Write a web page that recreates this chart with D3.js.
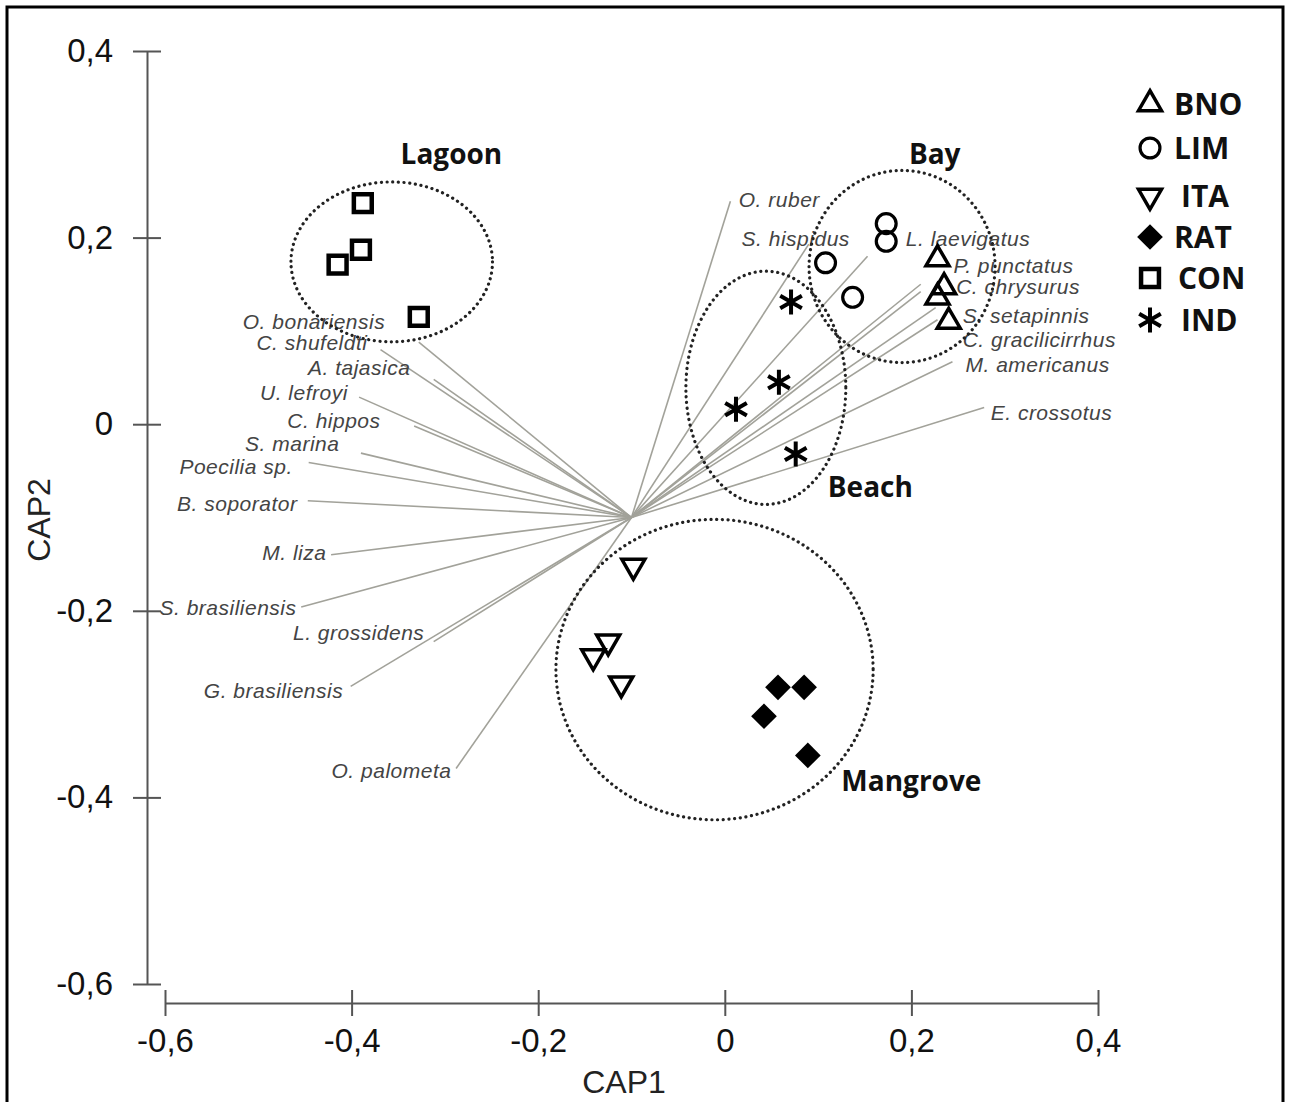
<!DOCTYPE html>
<html><head><meta charset="utf-8">
<script src="https://cdn.jsdelivr.net/npm/d3@7"></script>
<style>body{margin:0;background:#fff}</style>
</head><body>
<svg id="c" width="1290" height="1102"></svg>
<script>
// ---------- data ----------
const sites = ["BNO","LIM","ITA","RAT","CON","IND"];
const sampleSite = ["BNO","BNO","BNO","BNO","LIM","LIM","LIM","LIM","ITA","ITA","ITA","ITA","RAT","RAT","RAT","RAT","CON","CON","CON","CON","IND","IND","IND","IND"];
const sampleCap1 = [0.228,0.235,0.228,0.240, 0.173,0.173,0.108,0.137, -0.098,-0.125,-0.141,-0.111, 0.057,0.085,0.042,0.089, -0.388,-0.390,-0.415,-0.328, 0.071,0.058,0.012,0.076];
const sampleCap2 = [0.177,0.147,0.136,0.110, 0.215,0.196,0.173,0.136, -0.152,-0.233,-0.249,-0.278, -0.282,-0.282,-0.313,-0.355, 0.237,0.187,0.171,0.115, 0.131,0.045,0.016,-0.032];

const vectorOrigin = [-0.1, -0.1];
const species = ["O. bonariensis","C. shufeldti","A. tajasica","U. lefroyi","C. hippos","S. marina","Poecilia sp.","B. soporator","M. liza","S. brasiliensis","L. grossidens","G. brasiliensis","O. palometa",
                 "O. ruber","S. hispidus","L. laevigatus","P. punctatus","C. chrysurus","S. setapinnis","C. gracilicirrhus","M. americanus","E. crossotus"];
const speciesCap1 = [-0.328,-0.369,-0.312,-0.392,-0.333,-0.390,-0.446,-0.447,-0.422,-0.454,-0.312,-0.401,-0.288,
                      0.006,0.090,0.153,0.210,0.210,0.226,0.228,0.244,0.278];
const speciesCap2 = [0.088,0.080,0.048,0.029,-0.002,-0.031,-0.041,-0.082,-0.140,-0.196,-0.233,-0.281,-0.369,
                      0.239,0.193,0.180,0.150,0.142,0.125,0.112,0.067,0.018];
// label anchor points (data units)
const labelCap1 = [-0.364,-0.383,-0.337,-0.404,-0.369,-0.413,-0.463,-0.458,-0.427,-0.459,-0.322,-0.409,-0.293,
                    0.015,0.018,0.194,0.245,0.248,0.255,0.255,0.258,0.285];
const labelCap2 = [0.110,0.087,0.061,0.034,0.004,-0.021,-0.045,-0.085,-0.138,-0.197,-0.223,-0.286,-0.371,
                    0.241,0.199,0.199,0.170,0.147,0.116,0.091,0.064,0.012];

const groups = ["Lagoon","Bay","Beach","Mangrove"];
const groupCx = [-0.357, 0.190, 0.044, -0.011];
const groupCy = [0.174, 0.169, 0.039, -0.263];
const groupRx = [0.108, 0.0997, 0.0857, 0.170];
const groupRy = [0.0857, 0.103, 0.125, 0.161];
const groupLabelCap1 = [-0.293, 0.225, 0.156, 0.200];
const groupLabelCap2 = [0.289, 0.289, -0.068, -0.383];

const xTicks = [-0.6,-0.4,-0.2,0,0.2,0.4];
const yTicks = [0.4,0.2,0,-0.2,-0.4,-0.6];
const fmt = v => (v===0 ? "0" : String(v).replace(".", ","));

// ---------- layout ----------
const svg = d3.select("#c");
const x = d3.scaleLinear().domain([-0.6,0.4]).range([165,1098]);
const y = d3.scaleLinear().domain([-0.6,0.4]).range([984,51]);
const axisXpos = 147, axisYpos = 1003;

svg.append("rect").attr("x",7).attr("y",7).attr("width",1276).attr("height",1120)
  .attr("fill","none").attr("stroke","#000").attr("stroke-width",3);

// axes
const gy = svg.append("g").attr("transform",`translate(${axisXpos},0)`)
  .call(d3.axisLeft(y).tickValues(yTicks).tickFormat(fmt).tickSizeOuter(0).tickSizeInner(14).tickPadding(20));
const gx = svg.append("g").attr("transform",`translate(0,${axisYpos})`)
  .call(d3.axisBottom(x).tickValues(xTicks).tickFormat(fmt).tickSizeOuter(0).tickSizeInner(13).tickPadding(13));
[gy,gx].forEach(g=>{
  g.select(".domain").attr("stroke","#555").attr("stroke-width",2);
  g.selectAll(".tick line").attr("stroke","#555").attr("stroke-width",2);
  g.selectAll(".tick text").attr("fill","#111").style("font-family","'Liberation Sans',Arial,sans-serif").style("font-size","33px");
});
gy.selectAll(".tick line").attr("x1",14);
gx.selectAll(".tick line").attr("y1",-13);

svg.append("text").attr("transform","translate(50,520) rotate(-90)").attr("text-anchor","middle")
  .style("font-family","'Liberation Sans',Arial,sans-serif").style("font-size","32px").attr("fill","#222").text("CAP2");
svg.append("text").attr("x",624).attr("y",1093).attr("text-anchor","middle")
  .style("font-family","'Liberation Sans',Arial,sans-serif").style("font-size","32px").attr("fill","#222").text("CAP1");

// vectors
svg.append("g").selectAll("line").data(species).join("line")
  .attr("x1",x(vectorOrigin[0])).attr("y1",y(vectorOrigin[1]))
  .attr("x2",(d,i)=>x(speciesCap1[i])).attr("y2",(d,i)=>y(speciesCap2[i]))
  .attr("stroke","#a2a29a").attr("stroke-width",1.6);

// species labels
svg.append("g").selectAll("text").data(species).join("text")
  .attr("x",(d,i)=>x(labelCap1[i])).attr("y",(d,i)=>y(labelCap2[i]))
  .attr("dy","0.35em")
  .attr("text-anchor",(d,i)=> labelCap1[i] < vectorOrigin[0] ? "end" : "start")
  .style("font-family","'Liberation Sans',Arial,sans-serif").style("font-style","italic")
  .style("font-size","21px").style("letter-spacing","0.5px").attr("fill","#444")
  .text(d=>d);

// group ellipses
svg.append("g").selectAll("ellipse").data(groups).join("ellipse")
  .attr("cx",(d,i)=>x(groupCx[i])).attr("cy",(d,i)=>y(groupCy[i]))
  .attr("rx",(d,i)=>x(groupRx[i])-x(0)).attr("ry",(d,i)=>y(0)-y(groupRy[i]))
  .attr("fill","none").attr("stroke","#222").attr("stroke-width",3.2)
  .attr("stroke-dasharray","0.1 5.6").attr("stroke-linecap","round");

svg.append("g").selectAll("text").data(groups).join("text")
  .attr("x",(d,i)=>x(groupLabelCap1[i])).attr("y",(d,i)=>y(groupLabelCap2[i]))
  .attr("dy","0.35em").attr("text-anchor","middle")
  .style("font-family","'Open Sans',sans-serif").style("font-weight","bold").style("font-size","28px")
  .attr("fill","#111").text(d=>d);

// symbols
const symStyle = {
  BNO:{type:d3.symbolTriangle, size:230, rot:0, fill:"none", sw:3.5},
  LIM:{type:d3.symbolCircle, size:310, rot:0, fill:"none", sw:3.2},
  ITA:{type:d3.symbolTriangle, size:230, rot:180, fill:"none", sw:3.5},
  RAT:{type:d3.symbolSquare, size:330, rot:45, fill:"#000", sw:0},
  CON:{type:d3.symbolSquare, size:320, rot:0, fill:"none", sw:4.5},
  IND:{type:d3.symbolAsterisk, size:440, rot:0, fill:"none", sw:4}
};
function drawSym(sel){
  sel.attr("d",s=>d3.symbol().type(symStyle[s].type).size(symStyle[s].size)())
    .attr("fill",s=>symStyle[s].fill).attr("stroke","#000")
    .attr("stroke-width",s=>symStyle[s].sw).attr("stroke-linejoin","miter");
}
svg.append("g").selectAll("path").data(sampleSite).join("path")
  .attr("transform",(s,i)=>`translate(${x(sampleCap1[i])},${y(sampleCap2[i])}) rotate(${symStyle[s].rot})`)
  .call(drawSym);

// legend
const legY = [104,148,196,237,278,320];
const legTextX = [1174,1174,1181,1174,1178,1181];
const leg = svg.append("g").selectAll("g").data(sites).join("g")
  .attr("transform",(s,i)=>`translate(1150,${legY[i]})`);
leg.append("path").attr("transform",s=>`rotate(${symStyle[s].rot})`).call(drawSym);
leg.append("text").attr("x",(s,i)=>legTextX[i]-1150).attr("dy","0.36em")
  .style("font-family","'Open Sans',sans-serif").style("font-weight","bold").style("font-size","30px")
  .attr("fill","#111").text(s=>s);
</script>
</body></html>
